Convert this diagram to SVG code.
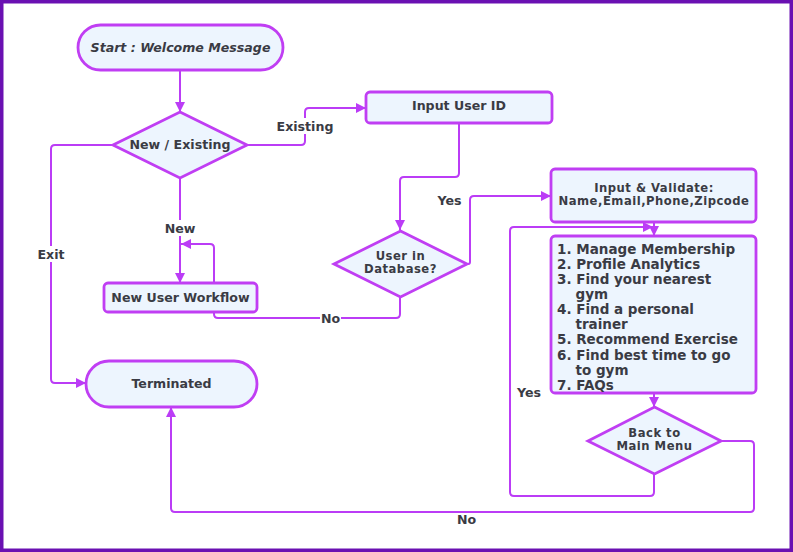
<svg xmlns="http://www.w3.org/2000/svg" width="793" height="552" viewBox="0 0 793 552">
<defs>
<marker id="arr" viewBox="0 0 10 10" refX="10" refY="5" markerWidth="10" markerHeight="10" markerUnits="userSpaceOnUse" orient="auto">
<path d="M0 0 L10 5 L0 10 Z" fill="#bb3cf6"/>
</marker>
<style>
.node{fill:#edf5fe;stroke:#c03ef3;stroke-width:2.8}
.ln{fill:none;stroke:#bb3cf6;stroke-width:2}
.t{font-family:"DejaVu Sans","Liberation Sans",sans-serif;font-weight:bold;font-size:12.6px;fill:#3a3b44;text-anchor:middle}
.t2{font-size:11.6px;letter-spacing:0.5px}
.lst{font-family:"DejaVu Sans","Liberation Sans",sans-serif;font-weight:bold;font-size:13.5px;fill:#3a3b44}
.lb{fill:#ffffff}
</style>
</defs>
<rect x="0" y="0" width="793" height="552" fill="#ffffff"/>
<rect x="0" y="0" width="793" height="552" fill="none" stroke="#6a10b2" stroke-width="7"/>

<g id="connectors">
<path class="ln" d="M180 70 V112" marker-end="url(#arr)"/>
<path class="ln" d="M247 145 H301 Q305 145 305 141 V112 Q305 108 309 108 H366" marker-end="url(#arr)"/>
<path class="ln" d="M180 178 V283" marker-end="url(#arr)"/>
<path class="ln" d="M113 145 H55 Q51 145 51 149 V379 Q51 383 55 383 H86" marker-end="url(#arr)"/>
<path class="ln" d="M459 123 V173 Q459 177 455 177 H404 Q400 177 400 181 V230" marker-end="url(#arr)"/>
<path class="ln" d="M466 264 H468 Q470 264 470 262 V200 Q470 196 474 196 H551" marker-end="url(#arr)"/>
<path class="ln" d="M400 297 V314 Q400 318 396 318 H218 Q214 318 214 314 V248 Q214 244 210 244 H181" marker-end="url(#arr)"/>
<path class="ln" d="M654 222 V236" marker-end="url(#arr)"/>
<path class="ln" d="M654 393 V407" marker-end="url(#arr)"/>
<path class="ln" d="M654 474 V492 Q654 496 650 496 H514 Q510 496 510 492 V231 Q510 227 514 227 H653" marker-end="url(#arr)"/>
<path class="ln" d="M721 441 H750 Q754 441 754 445 V508 Q754 512 750 512 H175 Q171 512 171 508 V407" marker-end="url(#arr)"/>
<rect class="lb" x="276" y="118" width="58" height="16"/>
<text class="t" x="305" y="130.5">Existing</text>
<rect class="lb" x="163" y="220" width="34" height="16"/>
<text class="t" x="180" y="232.5">New</text>
<rect class="lb" x="37" y="246" width="29" height="16"/>
<text class="t" x="51" y="258.5">Exit</text>
<rect class="lb" x="320" y="311" width="21" height="14"/>
<text class="t" x="330.5" y="322.5">No</text>
<text class="t" x="449.5" y="205">Yes</text>
<text class="t" x="529" y="396.5">Yes</text>
<text class="t" x="466.5" y="523.5">No</text>
</g>

<g id="start">
<rect class="node" x="78" y="25" width="205" height="45" rx="22.5"/>
<text class="t" x="180.5" y="51.5" font-style="italic">Start : Welcome Message</text>
</g>
<g id="new-existing">
<polygon class="node" points="180,112 247,145 180,178 113,145"/>
<text class="t" x="180" y="149">New / Existing</text>
</g>
<g id="input-user-id">
<rect class="node" x="366" y="92" width="186" height="31" rx="4"/>
<text class="t" x="459" y="110">Input User ID</text>
</g>
<g id="user-in-database">
<polygon class="node" points="400.5,231 467,264 400.5,297 334,264"/>
<text class="t t2" x="400.5" y="259.5">User in</text>
<text class="t t2" x="400.5" y="273">Database?</text>
</g>
<g id="new-user-workflow">
<rect class="node" x="104" y="283" width="153" height="29" rx="4"/>
<text class="t" x="180.5" y="301.5">New User Workflow</text>
</g>
<g id="terminated">
<rect class="node" x="86" y="361" width="171" height="46" rx="23"/>
<text class="t" x="171.5" y="387.5">Terminated</text>
</g>
<g id="input-validate">
<rect class="node" x="551" y="169" width="205" height="53" rx="4"/>
<text class="t t2" x="654" y="191.5" letter-spacing="0.2">Input &amp; Validate:</text>
<text class="t t2" x="654" y="205" letter-spacing="0.2" font-size="12">Name,Email,Phone,Zipcode</text>
</g>
<g id="main-menu">
<rect class="node" x="551" y="236" width="205" height="157" rx="4"/>
<text class="lst" x="557" y="253.5">1. Manage Membership</text>
<text class="lst" x="557" y="268.5">2. Profile Analytics</text>
<text class="lst" x="557" y="283.5">3. Find your nearest</text>
<text class="lst" x="575.5" y="298.8">gym</text>
<text class="lst" x="557" y="314">4. Find a personal</text>
<text class="lst" x="575.5" y="329">trainer</text>
<text class="lst" x="557" y="344.2">5. Recommend Exercise</text>
<text class="lst" x="557" y="359.5">6. Find best time to go</text>
<text class="lst" x="575.5" y="374.5">to gym</text>
<text class="lst" x="557" y="389.8">7. FAQs</text>
</g>
<g id="back-to-main-menu">
<polygon class="node" points="654.5,407 721,441 654.5,474 588,441"/>
<text class="t t2" x="654.5" y="436.5">Back to</text>
<text class="t t2" x="654.5" y="450">Main Menu</text>
</g>
</svg>
